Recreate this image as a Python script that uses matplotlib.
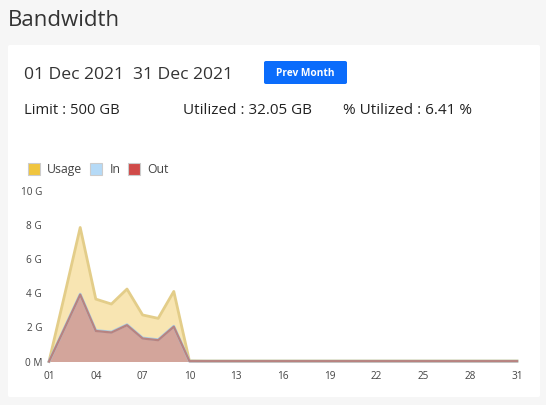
import matplotlib.pyplot as plt
from matplotlib.patches import FancyBboxPatch, Rectangle

# daily values in GB
days = list(range(1, 32))
usage = [0, 3.9, 7.86, 3.66, 3.37, 4.25, 2.73, 2.53, 4.11, 0.04] + [0.03] * 21
traffic_in = [0, 1.98, 3.95, 1.82, 1.73, 2.16, 1.38, 1.28, 2.07, 0.02] + [0.02] * 21
traffic_out = [0, 1.95, 3.92, 1.79, 1.70, 2.13, 1.35, 1.25, 2.04, 0.02] + [0.02] * 21

y_ticks = [0, 2, 4, 6, 8, 10]
y_labels = ["0 M", "2 G", "4 G", "6 G", "8 G", "10 G"]
x_ticks = [1, 4, 7, 10, 13, 16, 19, 22, 25, 28, 31]

plt.rcParams['font.family'] = ['Open Sans', 'DejaVu Sans']

W, H = 546, 405
fig = plt.figure(figsize=(W / 100, H / 100), dpi=100)
fig.patch.set_facecolor('#f6f6f6')

def fx(px):
    return px / W

def fy(py):
    return 1 - py / H

# white card, kept behind the axes
card = FancyBboxPatch((fx(8), fy(397)), fx(540) - fx(8), fy(45) - fy(397),
                      boxstyle="round,pad=0,rounding_size=0.004",
                      transform=fig.transFigure, facecolor='white', edgecolor='none', zorder=-10)
fig.patches.append(card)

fig.text(fx(8), fy(20), "Bandwidth", fontsize=16, color='#333333', va='center')
fig.text(fx(24), fy(75), "01 Dec 2021  31 Dec 2021", fontsize=12.6, color='#333333', va='center')

btn = FancyBboxPatch((fx(264), fy(84)), fx(347) - fx(264), fy(61) - fy(84),
                     boxstyle="round,pad=0,rounding_size=0.004",
                     transform=fig.transFigure, facecolor='#0b6cfb', edgecolor='none', zorder=-5)
fig.patches.append(btn)
fig.text(fx(305.5), fy(73), "Prev Month", fontsize=7.3, color='white', fontweight='bold',
         ha='center', va='center')

fig.text(fx(24), fy(110), "Limit : 500 GB", fontsize=10.6, color='#222222', va='center')
fig.text(fx(183), fy(110), "Utilized : 32.05 GB", fontsize=11, color='#222222', va='center')
fig.text(fx(343), fy(110), "% Utilized : 6.41 %", fontsize=11, color='#222222', va='center')

# legend
legend_items = [("Usage", '#f0c53e', 28, 47), ("In", '#b5daf7', 90, 110), ("Out", '#d04a48', 128, 147)]
for name, col, bx, tx in legend_items:
    fig.patches.append(Rectangle((fx(bx), fy(175)), fx(12), 12 / H, transform=fig.transFigure,
                                 facecolor=col, edgecolor='#cccccc', linewidth=0.8))
    fig.text(fx(tx), fy(169.5), name, fontsize=8.8, color='#444444', va='center')

# chart area
ax = fig.add_axes([fx(49), fy(361.5), fx(517) - fx(49), (361.5 - 191) / H])
ax.set_facecolor('none')

ax.fill_between(days, usage, color='#f8e5b2', linewidth=0)
ax.plot(days, usage, color='#e3cd89', linewidth=2, clip_on=False)
ax.fill_between(days, traffic_in, color='#c9d4dc', linewidth=0, alpha=0.8)
ax.plot(days, traffic_in, color='#a9cde4', linewidth=2, clip_on=False)
ax.fill_between(days, traffic_out, color='#d3a59b', linewidth=0)
ax.plot(days, traffic_out, color='#b88380', linewidth=1.6, clip_on=False)

ax.set_xlim(1, 31)
ax.set_ylim(0, 10)
ax.set_xticks(x_ticks)
ax.set_xticklabels([f"{d:02d}" for d in x_ticks])
ax.set_yticks(y_ticks)
ax.set_yticklabels(y_labels)
ax.tick_params(length=0, labelsize=7.2, colors='#444444')
ax.tick_params(axis='x', pad=6.5)
ax.tick_params(axis='y', pad=5)
for s in ax.spines.values():
    s.set_visible(False)

fig.savefig("out.png", dpi=100, facecolor=fig.get_facecolor())
